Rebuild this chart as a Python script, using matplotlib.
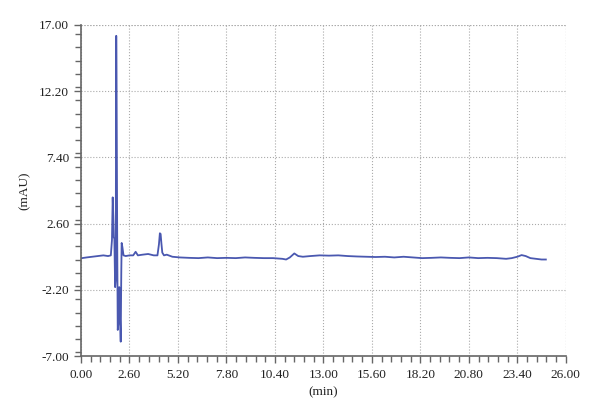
import numpy as np
import matplotlib
matplotlib.use("Agg")
import matplotlib.pyplot as plt
from matplotlib.ticker import MultipleLocator

# chromatogram (min, mAU)
t = [0.05, 0.3, 0.6, 0.9, 1.2, 1.45, 1.6, 1.66, 1.70, 1.73, 1.76, 1.79,
     1.83, 1.86, 1.89, 1.91, 1.94, 1.97, 2.01, 2.05, 2.09, 2.13, 2.16, 2.18,
     2.22, 2.28, 2.4, 2.6, 2.8, 2.93, 3.05, 3.3, 3.6, 3.9, 4.1, 4.18, 4.23,
     4.27, 4.31, 4.36, 4.45, 4.6, 4.9, 5.3, 5.8, 6.3, 6.8, 7.3, 7.8, 8.3,
     8.8, 9.3, 9.8, 10.3, 10.8, 11.0, 11.2, 11.44, 11.65, 11.9, 12.3, 12.8,
     13.3, 13.8, 14.3, 14.8, 15.3, 15.8, 16.3, 16.8, 17.3, 17.8, 18.3, 18.8,
     19.3, 19.8, 20.3, 20.8, 21.3, 21.8, 22.3, 22.8, 23.1, 23.4, 23.63,
     23.85, 24.1, 24.4, 24.7, 24.93]
mau = [0.1, 0.15, 0.2, 0.25, 0.3, 0.25, 0.3, 1.4, 4.5, 3.2, 1.6, 1.5,
       -2.0, -1.5, 16.2, 12.0, 2.0, -5.1, -4.6, -2.0, -4.0, -5.95, -1.0, 1.2,
       0.9, 0.3, 0.25, 0.3, 0.3, 0.56, 0.3, 0.35, 0.4, 0.3, 0.3, 1.1, 1.9,
       1.85, 1.2, 0.5, 0.3, 0.35, 0.2, 0.15, 0.12, 0.1, 0.15, 0.1, 0.12, 0.1,
       0.15, 0.12, 0.1, 0.1, 0.05, 0.0, 0.15, 0.44, 0.25, 0.2, 0.25, 0.3,
       0.28, 0.3, 0.25, 0.22, 0.2, 0.18, 0.2, 0.15, 0.2, 0.15, 0.1, 0.12,
       0.15, 0.12, 0.1, 0.15, 0.1, 0.12, 0.1, 0.05, 0.1, 0.2, 0.32,
       0.25, 0.1, 0.05, 0.0, 0.0]

xticks = [0.00, 2.60, 5.20, 7.80, 10.40, 13.00, 15.60, 18.20, 20.80, 23.40, 26.00]
yticks = [-7.00, -2.20, 2.60, 7.40, 12.20, 17.00]

plt.rcParams['font.family'] = ['Liberation Serif', 'DejaVu Serif']

fig = plt.figure(figsize=(6, 4.2), dpi=100)
ax = fig.add_axes([0.135, 0.152, 0.808, 0.789])

ax.plot(t, mau, color='#4a58b0', lw=1.3)

ax.set_xlim(0, 26)
ax.set_ylim(-7, 17)
ax.set_xticks(xticks)
ax.set_yticks(yticks)
ax.set_xticklabels(["%.2f" % v for v in xticks])
ax.set_yticklabels(["%.2f" % v for v in yticks])
ax.xaxis.set_minor_locator(MultipleLocator(0.52))
ax.yaxis.set_minor_locator(MultipleLocator(0.96))

ax.grid(True, which='major', ls=':', color='#aaaaaa', lw=0.8)
for s in ['top', 'right']:
    ax.spines[s].set_visible(False)
ax.axhline(17, ls=':', color='#aaaaaa', lw=0.8)
ax.axvline(26, ls=':', color='#aaaaaa', lw=0.8)
for s in ['left', 'bottom']:
    ax.spines[s].set_color('#666666')
    ax.spines[s].set_linewidth(1.2)

ax.tick_params(which='both', direction='out', color='#666666', width=1.0,
               labelsize=9.5, labelcolor='#222222')
ax.tick_params(which='major', length=5)
ax.tick_params(which='minor', length=4)
ax.tick_params(axis='x', pad=4)

ax.set_xlabel("(min)", fontsize=9.5, labelpad=4, color='#222222')
ax.set_ylabel("(mAU)", fontsize=9.5, labelpad=6, color='#222222')

fig.savefig("out.png", dpi=100)
